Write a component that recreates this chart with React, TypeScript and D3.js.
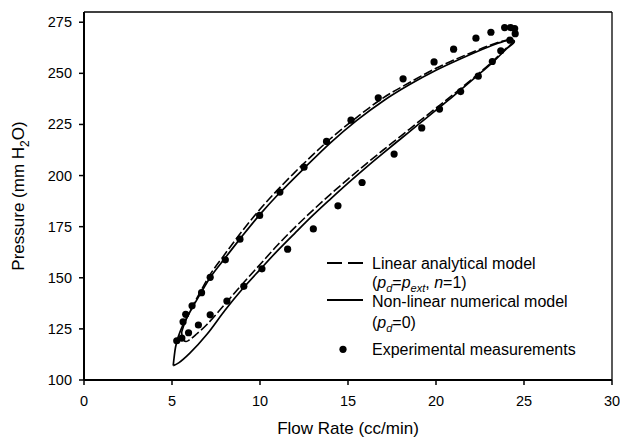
import React from "react";
import * as d3 from "d3";

const flowTicks = [0, 5, 10, 15, 20, 25, 30];
const pressureTicks = [100, 125, 150, 175, 200, 225, 250, 275];

// Experimental measurements (flow cc/min, pressure mm H2O)
const expFlow = [
  5.27, 5.56, 5.63, 5.78, 6.14, 6.68, 7.17, 8.03, 8.86, 9.98, 11.13, 12.5, 13.78, 15.17, 16.72, 18.13, 19.89, 21.0, 22.27, 23.12, 23.9, 24.24, 24.47, 24.5,
  24.2, 23.68, 23.2, 22.4, 21.4, 20.2, 19.19, 17.62, 15.8, 14.43, 13.03, 11.57, 10.11, 9.08, 8.12, 7.17, 6.5, 5.94,
];
const expPressure = [
  119.2, 120.5, 128.5, 132.1, 136.3, 142.7, 150.2, 158.8, 168.9, 180.5, 191.9, 204.1, 216.7, 227.1, 238.0, 247.3, 255.6, 261.8, 267.2, 270.1, 272.4, 272.4, 271.9, 269.4,
  266.2, 261.0, 255.8, 248.6, 241.1, 232.5, 223.3, 210.5, 196.6, 185.2, 173.9, 164.0, 154.4, 145.8, 138.6, 131.9, 126.9, 123.1,
];

// Non-linear numerical model (solid)
const nonlinearFlow = [
  5.07, 5.12, 5.2, 5.35, 5.6, 6.0, 6.6, 7.2, 8.0, 9.0, 10, 11, 12.5, 14, 15.5, 17, 18.5, 20, 21.5, 23, 23.8, 24.3,
  24.45, 24.0, 23.3, 22.3, 21, 20, 19, 18, 17, 16, 15, 14, 13, 12, 11, 10, 9, 8, 7, 6, 5.4, 5.07,
];
const nonlinearPressure = [
  107, 111, 116, 121, 126.5, 133, 142, 150.5, 159.5, 170.5, 181, 190.5, 203.5, 216, 227, 236.5, 244.5, 251.5, 257.5, 263, 265.5, 266.3,
  265.5, 262, 256, 248.5, 239, 232, 225, 218, 211, 203.8, 196.3, 188.5, 180.5, 172, 163.3, 154, 144.5, 134, 122.5, 113, 108.5, 107,
];

// Linear analytical model (dashed)
const linearFlow = [
  5.55, 5.75, 6.1, 6.6, 7.2, 8, 9, 10, 11, 12.5, 14, 15.5, 17, 18.5, 20, 21.5, 23, 23.8, 24.3,
  24.45, 24.0, 23.3, 22.3, 21, 20, 19, 18, 17, 16, 15, 14, 13, 12, 11, 10, 9, 8, 7, 6.4, 6.05, 5.8, 5.62, 5.55,
];
const linearPressure = [
  123.5, 128.5, 135, 143, 152, 161.5, 173, 183.5, 193, 206, 218, 228.5, 238, 245.5, 252.5, 258.3, 263.5, 265.8, 266.5,
  265.7, 262.3, 256.5, 249, 239.8, 233, 226.2, 219.3, 212.5, 205.5, 198.3, 190.8, 183, 174.8, 166, 156.5, 147, 137, 127.3, 122.5, 120, 118.8, 120, 123.5,
];

const W = 620;
const H = 443;
const FONT = "'Liberation Sans', Arial, Helvetica, sans-serif";

export default function App() {
  const x = d3.scaleLinear().domain([0, 30]).range([84, 612]);
  const y = d3.scaleLinear().domain([100, 280]).range([380, 12]);

  const line = d3
    .line<[number, number]>()
    .x((d) => x(d[0]))
    .y((d) => y(d[1]))
    .curve(d3.curveCatmullRom.alpha(0.5));

  const nonlinearPts = nonlinearFlow.map((f, i) => [f, nonlinearPressure[i]] as [number, number]);
  const linearPts = linearFlow.map((f, i) => [f, linearPressure[i]] as [number, number]);

  const legendX1 = 327;
  const legendX2 = 363;
  const textX = 372;

  return (
    <svg
      width={W}
      height={H}
      viewBox={`0 0 ${W} ${H}`}
      style={{ position: "fixed", left: 0, top: 0, background: "#fff" }}
      fontFamily={FONT}
    >
      <rect x={0} y={0} width={W} height={H} fill="#fff" />
      {/* frame */}
      <line x1={x(0)} x2={x(30)} y1={y(280)} y2={y(280)} stroke="#000" strokeWidth={1.6} />
      <line x1={x(30)} x2={x(30)} y1={y(280)} y2={y(100)} stroke="#000" strokeWidth={1.3} />
      <line x1={x(0)} x2={x(30)} y1={y(100)} y2={y(100)} stroke="#000" strokeWidth={2} />
      <line x1={x(0)} x2={x(0)} y1={y(280)} y2={y(100)} stroke="#000" strokeWidth={2} />

      {/* x ticks */}
      {flowTicks.map((t) => (
        <g key={"xt" + t}>
          <line x1={x(t)} x2={x(t)} y1={y(100)} y2={y(100) + 5} stroke="#000" strokeWidth={1.5} />
          <text x={x(t)} y={406} textAnchor="middle" fontSize={14.5} fill="#000">
            {t}
          </text>
        </g>
      ))}
      {/* y ticks */}
      {pressureTicks.map((t) => (
        <g key={"yt" + t}>
          <line x1={x(0) - 5} x2={x(0)} y1={y(t)} y2={y(t)} stroke="#000" strokeWidth={1.5} />
          <text x={72} y={y(t) + 5} textAnchor="end" fontSize={14.5} fill="#000">
            {t}
          </text>
        </g>
      ))}

      {/* axis titles */}
      <text x={348} y={434} textAnchor="middle" fontSize={17} fill="#000">
        Flow Rate (cc/min)
      </text>
      <text
        transform={`translate(24,${(y(100) + y(280)) / 2}) rotate(-90)`}
        textAnchor="middle"
        fontSize={17}
        fill="#000"
      >
        Pressure (mm H
        <tspan fontSize={12} dy={5}>
          2
        </tspan>
        <tspan dy={-5}>O)</tspan>
      </text>

      {/* model curves */}
      <path d={line(linearPts) || ""} fill="none" stroke="#000" strokeWidth={1.6} strokeDasharray="9,3" />
      <path d={line(nonlinearPts) || ""} fill="none" stroke="#000" strokeWidth={1.7} />

      {/* experimental points */}
      {expFlow.map((f, i) => (
        <circle key={"p" + i} cx={x(f)} cy={y(expPressure[i])} r={3.6} fill="#000" />
      ))}

      {/* legend */}
      <line x1={legendX1} x2={legendX2} y1={263} y2={263} stroke="#000" strokeWidth={1.8} strokeDasharray="15,6" />
      <text x={textX} y={268.5} fontSize={16} fill="#000">
        Linear analytical model
      </text>
      <text x={textX} y={288} fontSize={16} fill="#000">
        (<tspan fontStyle="italic">p</tspan>
        <tspan fontStyle="italic" fontSize={11} dy={4}>d</tspan>
        <tspan dy={-4}>=</tspan>
        <tspan fontStyle="italic">p</tspan>
        <tspan fontStyle="italic" fontSize={11} dy={4}>ext</tspan>
        <tspan dy={-4}>, </tspan>
        <tspan fontStyle="italic">n</tspan>=1)
      </text>
      <line x1={legendX1} x2={legendX2} y1={300} y2={300} stroke="#000" strokeWidth={1.8} />
      <text x={textX} y={306.5} fontSize={16} fill="#000">
        Non-linear numerical model
      </text>
      <text x={textX} y={328} fontSize={16} fill="#000">
        (<tspan fontStyle="italic">p</tspan>
        <tspan fontStyle="italic" fontSize={11} dy={4}>d</tspan>
        <tspan dy={-4}>=0)</tspan>
      </text>
      <circle cx={343} cy={349.3} r={3.6} fill="#000" />
      <text x={textX} y={354.5} fontSize={16} fill="#000">
        Experimental measurements
      </text>
    </svg>
  );
}
